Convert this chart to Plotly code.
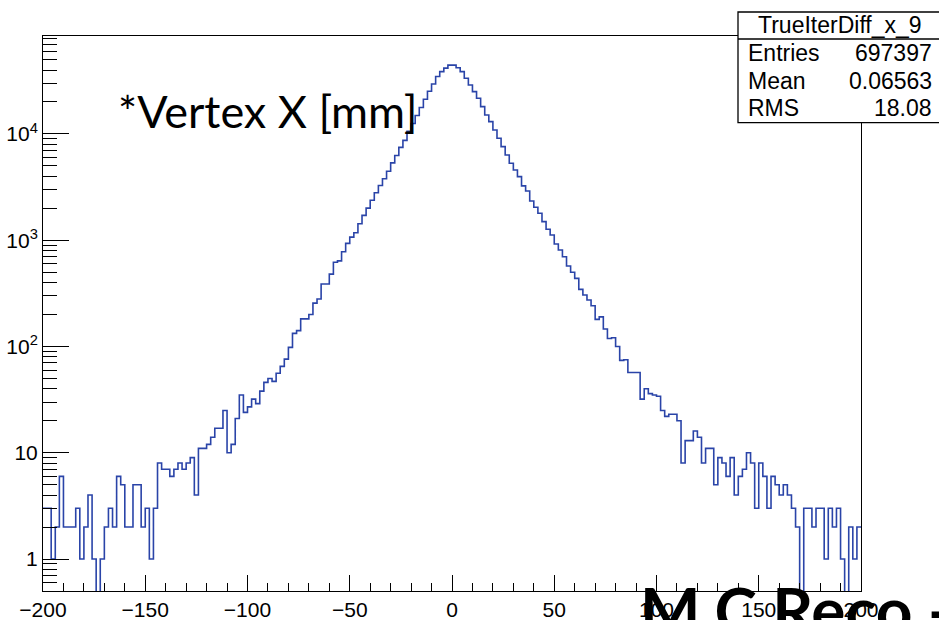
import plotly.graph_objects as go
import numpy as np

# ---------------- data ----------------
x_min, x_max, n_bins = -200.0, 200.0, 200

counts = [
    # -200 .. -162
    3, 3, 1, 2, 6, 2, 2, 2, 3, 1,
    2, 4, 1, 0, 1, 2, 3, 2, 6, 5,
    # -160 .. -122
    2, 2, 5, 5, 2, 3, 1, 3, 8, 7,
    7, 6, 7, 8, 7, 8, 9, 4, 11, 11,
    # -120 .. -82
    12, 14, 17, 17, 25, 10, 12, 21, 35, 24,
    27, 32, 29, 38, 46, 50, 47, 56, 65, 76,
    # -80 .. -42
    98, 133, 141, 182, 182, 200, 256, 280, 387, 387,
    480, 620, 640, 780, 935, 1070, 1175, 1430, 1715, 2005,
    # -40 .. -2
    2380, 2800, 3270, 3790, 4460, 5350, 6280, 7480, 8710, 10570,
    12530, 14900, 17760, 21200, 25250, 29500, 34750, 38600, 41700, 44500,
    # 0 .. 38
    44500, 42000, 38600, 33430, 28910, 25020, 21680, 18070, 15090, 13060,
    10900, 9100, 7600, 6340, 5300, 4580, 3965, 3250, 2910, 2340,
    # 40 .. 78
    2042, 1793, 1496, 1268, 1120, 922, 809, 700, 572, 499,
    438, 345, 305, 274, 242, 180, 190, 146, 119, 121,
    # 80 .. 118
    100, 74, 75, 57, 57, 57, 32, 40, 36, 35,
    34, 25, 22, 23, 23, 20, 8, 13, 13, 16,
    # 120 .. 158
    14, 8, 11, 11, 5, 9, 8, 6, 9, 4,
    6, 7, 10, 8, 3, 8, 6, 3, 6, 5,
    # 160 .. 198
    4, 5, 4, 3, 2, 0, 3, 3, 2, 3,
    3, 1, 3, 2, 3, 1, 0, 2, 1, 2,
]

x_tick_vals = [-200, -150, -100, -50, 0, 50, 100, 150, 200]
x_tick_text = ["\u2212200", "\u2212150", "\u2212100", "\u221250", "0", "50", "100", "150", "200"]
y_tick_vals = [1, 10, 100, 1000, 10000]
y_tick_text = ["1", "10", "10<sup>2</sup>", "10<sup>3</sup>", "10<sup>4</sup>"]

hist_name = "TrueIterDiff_x_9"
stat_labels = ["Entries", "Mean", "RMS"]
stat_values = ["697397", "0.06563", "18.08"]

label_text = "*Vertex X [mm]"
bottom_text = "M.C Reco -"

# ---------------- geometry helpers ----------------
W, H = 939, 620
L, R, T, B = 43, 861, 36, 591


def px(xp):
    return (xp - L) / (R - L)


def py(yp):
    return (B - yp) / (B - T)


edges = np.linspace(x_min, x_max, n_bins + 1)
yplot = [c if c > 0 else 1e-3 for c in counts]
yplot = yplot + [yplot[-1]]

fig = go.Figure()
fig.add_trace(go.Scatter(
    x=edges, y=yplot, mode="lines", line_shape="hv",
    line=dict(color="#2a44a8", width=1.6),
    hoverinfo="skip", showlegend=False,
))

minor_y = []
for d in [0.1, 1, 10, 100, 1000, 10000]:
    for m in range(2, 10):
        v = m * d
        if 0.5 < v < 84000 and v not in y_tick_vals:
            minor_y.append(v)

tickfont = dict(family="Liberation Sans, Arial, sans-serif", size=21, color="black")

fig.update_xaxes(
    range=[x_min, x_max], tickmode="array", tickvals=x_tick_vals, ticktext=x_tick_text,
    ticks="inside", ticklen=16, tickwidth=1, tickcolor="black",
    showline=True, linecolor="black", linewidth=1, mirror=True,
    showgrid=False, zeroline=False, tickfont=tickfont, automargin=False,
    minor=dict(ticks="inside", ticklen=8, tickwidth=1, tickcolor="black",
               tickmode="linear", tick0=0, dtick=10, showgrid=False),
)
fig.update_yaxes(
    type="log", range=[np.log10(0.5), 4.922], tickmode="array",
    tickvals=y_tick_vals, ticktext=y_tick_text,
    ticks="inside", ticklen=26, tickwidth=1, tickcolor="black",
    showline=True, linecolor="black", linewidth=1, mirror=True,
    showgrid=False, zeroline=False, tickfont=tickfont, automargin=False,
    minor=dict(ticks="inside", ticklen=14, tickwidth=1, tickcolor="black",
               tickmode="array", tickvals=minor_y, showgrid=False),
)

shapes = [
    dict(type="rect", xref="paper", yref="paper",
         x0=px(738), x1=px(960), y0=py(122.7), y1=py(12),
         fillcolor="white", line=dict(color="black", width=1.3), layer="above"),
    dict(type="line", xref="paper", yref="paper",
         x0=px(738), x1=px(960), y0=py(39), y1=py(39),
         line=dict(color="black", width=1.3), layer="above"),
]

statfont = dict(family="Liberation Sans, Arial, sans-serif", size=23, color="black")
ann = [
    dict(text=hist_name, x=px(840), y=py(25.5), xanchor="center", yanchor="middle",
         font=statfont),
]
row_y = [53, 81, 108]
for lab, val, yy in zip(stat_labels, stat_values, row_y):
    ann.append(dict(text=lab, x=px(746), y=py(yy), xanchor="left", yanchor="middle", font=statfont))
    ann.append(dict(text=val, x=px(934), y=py(yy), xanchor="right", yanchor="middle", font=statfont))

ann.append(dict(text=label_text, x=px(116), y=py(111), xanchor="left", yanchor="middle",
                font=dict(family="Lato, sans-serif", size=45, color="black")))
ann.append(dict(text="<b>" + bottom_text + "</b>", x=px(638), y=py(609), xanchor="left",
                yanchor="middle",
                font=dict(family="Lato, sans-serif", size=64, color="black")))

for a in ann:
    a.update(xref="paper", yref="paper", showarrow=False)

fig.update_layout(
    width=W, height=H,
    margin=dict(l=L, r=W - R, t=T, b=H - B, autoexpand=False),
    plot_bgcolor="white", paper_bgcolor="white",
    shapes=shapes, annotations=ann, showlegend=False,
)

fig.write_html("out.html")
